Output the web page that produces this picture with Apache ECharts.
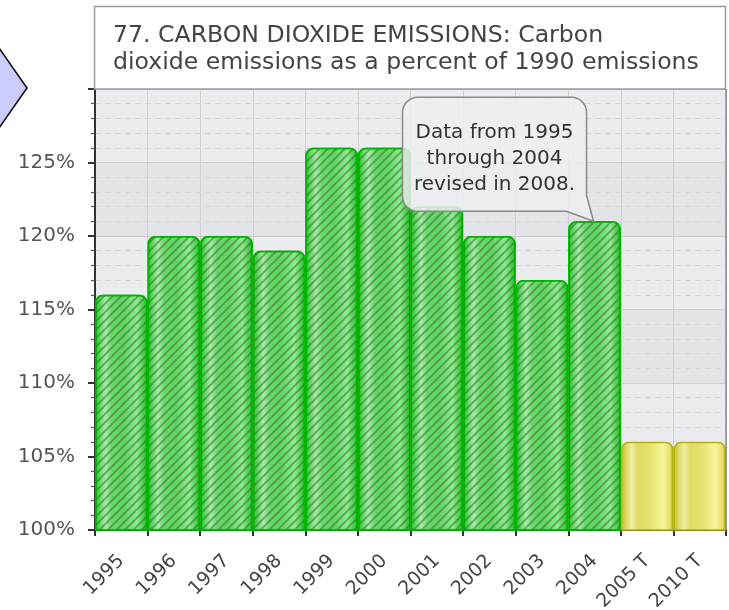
<!DOCTYPE html>
<html>
<head>
<meta charset="utf-8">
<script src="https://cdn.jsdelivr.net/npm/echarts@6/dist/echarts.min.js"></script>
<style>
html,body{margin:0;padding:0;background:#fff;}
#chart{width:729px;height:610px;}
</style>
</head>
<body>
<div id="chart"></div>
<script>
const categories = ['1995','1996','1997','1998','1999','2000','2001','2002','2003','2004','2005 T','2010 T'];
const actualValues = [116,120,120,119,126,126,122,120,117,121,'-','-'];
const targetValues = ['-','-','-','-','-','-','-','-','-','-',106,106];
const yTicks = [100,105,110,115,120,125,130];
const titleLines = ['77. CARBON DIOXIDE EMISSIONS: Carbon','dioxide emissions as a percent of 1990 emissions'];
const noteLines = ['Data from 1995','through 2004','revised in 2008.'];
const noteAnchor = ['2004', 121];

const FONT = 'DejaVu Sans';
const chart = echarts.init(document.getElementById('chart'), null, {renderer:'canvas'});

const greenGrad = new echarts.graphic.LinearGradient(0,0,1,0,[
  {offset:0, color:'#11c011'},
  {offset:0.08, color:'#55d855'},
  {offset:0.2, color:'#a6eea6'},
  {offset:0.32, color:'#66dc66'},
  {offset:0.55, color:'#5fd85f'},
  {offset:0.8, color:'#8cee8c'},
  {offset:0.93, color:'#44d044'},
  {offset:1, color:'#0cbc0c'}
]);
const yellowGrad = new echarts.graphic.LinearGradient(0,0,1,0,[
  {offset:0, color:'#c2ba2a'},
  {offset:0.1, color:'#dcd862'},
  {offset:0.2, color:'#f0eea6'},
  {offset:0.32, color:'#e0dc66'},
  {offset:0.55, color:'#e6e270'},
  {offset:0.8, color:'#f8f69a'},
  {offset:0.93, color:'#e6e070'},
  {offset:1, color:'#bdb423'}
]);

const option = {
  animation:false,
  backgroundColor:'#ffffff',
  grid:{left:95, right:3, top:89, bottom:80, containLabel:false, outerBoundsMode:'none'},
  title:{
    text: titleLines.join('\n'),
    left:108, top:17, z:30,
    textStyle:{fontFamily:FONT, fontSize:23.6, fontWeight:'normal', color:'#444', lineHeight:27}
  },
  xAxis:{
    type:'category',
    data:categories,
    boundaryGap:true,
    axisLine:{show:true, lineStyle:{color:'#333', width:2}},
    axisTick:{show:true, length:6, lineStyle:{color:'#333', width:2}},
    axisLabel:{rotate:45, margin:28, fontFamily:FONT, fontSize:19, color:'#444', interval:0},
    splitLine:{show:true, lineStyle:{color:'#cfcfcf', width:1}}
  },
  yAxis:{
    type:'value',
    min:yTicks[0], max:yTicks[yTicks.length-1], interval:5,
    axisLine:{show:true, lineStyle:{color:'#333', width:2}},
    axisTick:{show:true, length:7, lineStyle:{color:'#333', width:2}},
    minorTick:{show:true, splitNumber:5, length:4, lineStyle:{color:'#555', width:1.2}},
    axisLabel:{formatter:'{value}%', margin:20, fontFamily:FONT, fontSize:20, color:'#555', showMaxLabel:false},
    splitLine:{show:true, lineStyle:{color:'#cdcdcd', width:1}},
    minorSplitLine:{show:true, lineStyle:{color:'#d5d6d9', width:1, type:[6,4]}},
    splitArea:{show:true, areaStyle:{color:['#e3e4e7','#eaecef']}}
  },
  series:[
    {
      name:'Actual', type:'bar', stack:'co2', data:actualValues,
      barCategoryGap:'0%',
      itemStyle:{
        color:greenGrad, borderColor:'#00b400', borderWidth:1.5, borderRadius:[7,7,0,0],
        decal:{symbol:'rect', symbolSize:1, dashArrayX:[1,0], dashArrayY:[1.4,3.6], rotation:-Math.PI/4, color:'rgba(70,90,70,0.5)'}
      },
      z:3
    },
    {
      name:'Target', type:'bar', stack:'co2', data:targetValues,
      barCategoryGap:'0%',
      itemStyle:{color:yellowGrad, borderColor:'#b8b010', borderWidth:1.5, borderRadius:[7,7,0,0]},
      z:3
    }
  ]
};
chart.setOption(option);

const tip = chart.convertToPixel({seriesIndex:0}, noteAnchor);
const tx = tip[0] - 1, ty = tip[1];
const x0 = tx - 191, x1 = tx - 7, y0 = ty - 124, y1 = ty - 10, r = 15;
function arc(cx, cy, a0, a1, pts){
  const n = 8;
  for(let i=0;i<=n;i++){
    const a = a0 + (a1-a0)*i/n;
    pts.push([cx + r*Math.cos(a), cy + r*Math.sin(a)]);
  }
}
const pts = [];
arc(x0+r, y0+r, Math.PI, Math.PI*1.5, pts);
arc(x1-r, y0+r, Math.PI*1.5, Math.PI*2, pts);
pts.push([x1, y1-16]);
pts.push([tx, ty]);
pts.push([tx-27, y1]);
arc(x0+r, y1-r, Math.PI*0.5, Math.PI, pts);

chart.setOption({
  graphic:[
    {type:'polygon', z:10, shape:{points:[[-3,45],[27,88],[-3,131]]}, style:{fill:'#ccccff', stroke:'#111', lineWidth:1.6}},
    {type:'rect', z:5, shape:{x:94.5, y:6.5, width:631, height:82.5}, style:{fill:'#ffffff', stroke:'#9a9a9a', lineWidth:1.5}},
    {type:'line', z:10, shape:{x1:726, y1:89, x2:726, y2:530}, style:{stroke:'#8a8a8a', lineWidth:1.5}},
    {type:'polygon', z:20, shape:{points:pts}, style:{fill:'rgba(238,239,241,0.82)', stroke:'#8a8a8a', lineWidth:1.5}},
    {type:'text', z:21, x:(x0+x1)/2, y:y0+22, style:{text:noteLines.join('\n'), fontFamily:FONT, fontSize:20, fill:'#333', align:'center', verticalAlign:'top', lineHeight:26}}
  ]
});
</script>
</body>
</html>
